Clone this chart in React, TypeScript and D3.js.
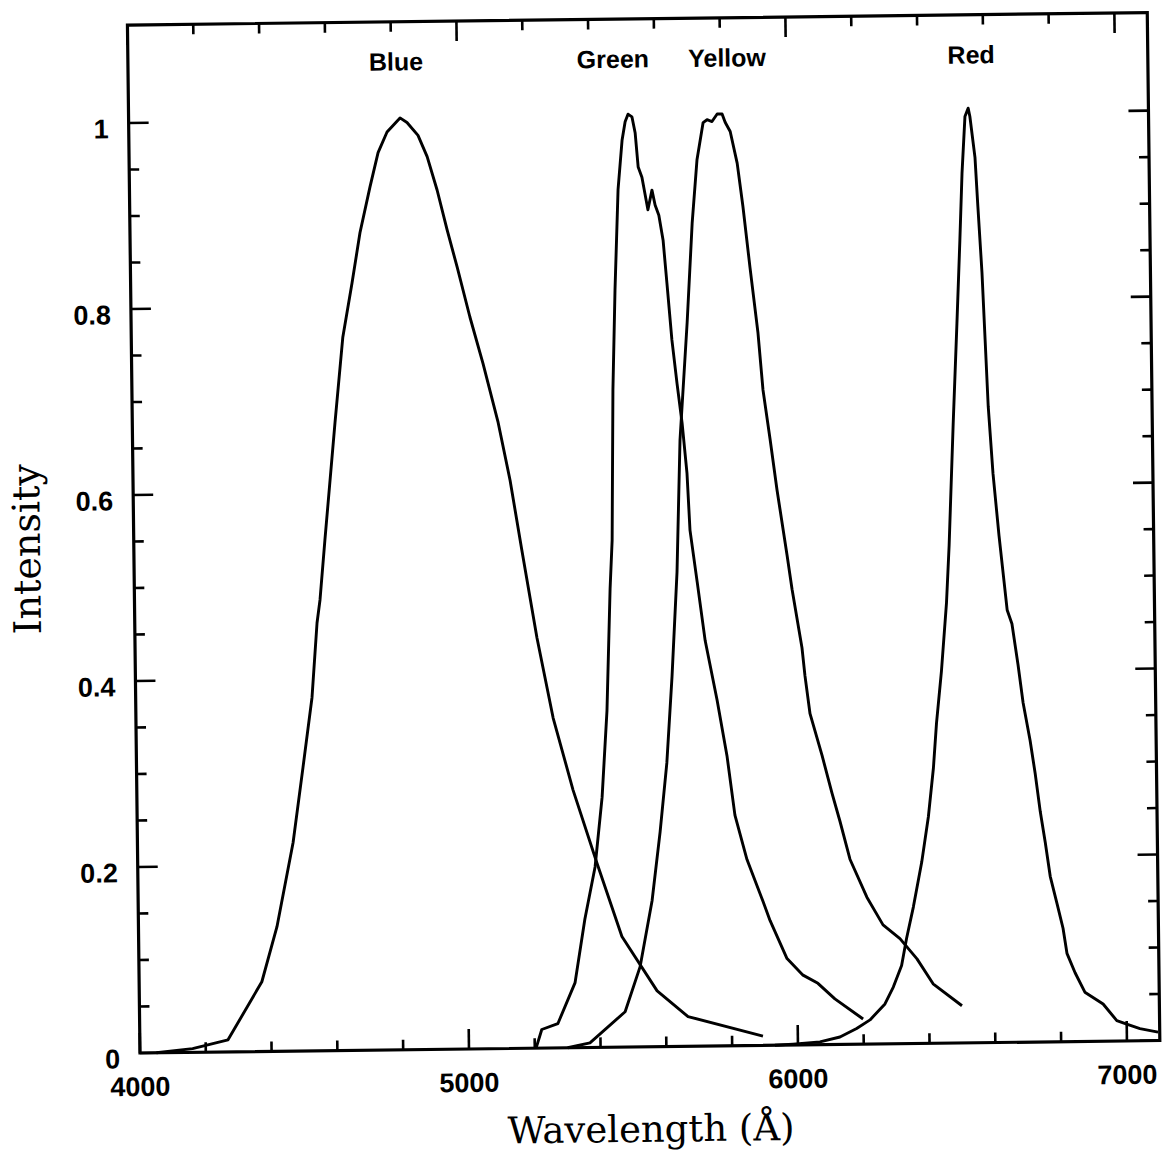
import React from 'react';
import * as d3 from 'd3';

// Filter transmission curves
const blueWavelength = [4050, 4160, 4268, 4373, 4421, 4473, 4506, 4536, 4554, 4564, 4581, 4616, 4643, 4673, 4699, 4731, 4757, 4785, 4825, 4846, 4879, 4906, 4935, 4964, 4993, 5030, 5068, 5112, 5146, 5179, 5222, 5268, 5326, 5396, 5469, 5574, 5667, 5894];
const blueIntensity = [0, 0.004, 0.013, 0.075, 0.134, 0.224, 0.305, 0.38, 0.46, 0.485, 0.549, 0.675, 0.767, 0.825, 0.879, 0.928, 0.965, 0.987, 1.002, 0.997, 0.983, 0.96, 0.924, 0.881, 0.841, 0.787, 0.737, 0.673, 0.611, 0.536, 0.441, 0.355, 0.277, 0.198, 0.119, 0.06, 0.032, 0.01];

const greenWavelength = [5204, 5222, 5271, 5325, 5357, 5390, 5414, 5432, 5446, 5454, 5462, 5472, 5485, 5499, 5509, 5518, 5530, 5539, 5547, 5558, 5575, 5588, 5597, 5608, 5620, 5630, 5643, 5657, 5671, 5684, 5691, 5711, 5733, 5767, 5795, 5817, 5852, 5899, 5920, 5970, 6018, 6063, 6114, 6199];
const greenIntensity = [0, 0.02, 0.026, 0.07, 0.138, 0.194, 0.269, 0.362, 0.493, 0.545, 0.707, 0.814, 0.922, 0.975, 0.995, 1.003, 1.0, 0.983, 0.946, 0.935, 0.9, 0.921, 0.905, 0.894, 0.867, 0.821, 0.76, 0.713, 0.67, 0.616, 0.555, 0.499, 0.436, 0.372, 0.312, 0.248, 0.2, 0.155, 0.134, 0.093, 0.075, 0.066, 0.049, 0.027];

const yellowWavelength = [5300, 5368, 5476, 5523, 5562, 5589, 5612, 5631, 5650, 5664, 5690, 5709, 5726, 5746, 5758, 5773, 5789, 5804, 5813, 5828, 5848, 5864, 5883, 5905, 5918, 5938, 5957, 5985, 5999, 6027, 6035, 6049, 6084, 6113, 6136, 6165, 6215, 6263, 6314, 6365, 6413, 6500];
const yellowIntensity = [0, 0.005, 0.038, 0.086, 0.157, 0.231, 0.305, 0.398, 0.51, 0.652, 0.778, 0.885, 0.953, 0.993, 0.996, 0.994, 1.002, 1.002, 0.993, 0.983, 0.949, 0.902, 0.837, 0.766, 0.705, 0.651, 0.597, 0.527, 0.49, 0.427, 0.397, 0.356, 0.311, 0.27, 0.24, 0.199, 0.158, 0.128, 0.113, 0.091, 0.064, 0.04];

const redWavelength = [5930, 5985, 6067, 6128, 6179, 6220, 6266, 6292, 6318, 6334, 6356, 6383, 6405, 6422, 6433, 6450, 6468, 6478, 6495, 6510, 6522, 6531, 6542, 6552, 6557, 6571, 6578, 6588, 6595, 6602, 6614, 6630, 6652, 6666, 6683, 6697, 6717, 6731, 6745, 6759, 6773, 6793, 6810, 6821, 6845, 6874, 6929, 6970, 7000, 7040, 7095];
const redIntensity = [0, 0.001, 0.003, 0.008, 0.017, 0.026, 0.043, 0.061, 0.084, 0.113, 0.147, 0.195, 0.244, 0.296, 0.344, 0.4, 0.474, 0.535, 0.667, 0.774, 0.863, 0.935, 0.996, 1.005, 0.996, 0.952, 0.899, 0.828, 0.756, 0.684, 0.612, 0.545, 0.465, 0.45, 0.406, 0.365, 0.324, 0.289, 0.248, 0.215, 0.178, 0.148, 0.122, 0.095, 0.074, 0.053, 0.04, 0.022, 0.018, 0.013, 0.009];

const bandNames = ['Blue', 'Green', 'Yellow', 'Red'];
const bandLabelWavelength = [4815, 5474, 5821, 6563];
const bandLabelHeight = 1.053;

const xTickLabels = ['4000', '5000', '6000', '7000'];
const yTickLabels = ['0', '0.2', '0.4', '0.6', '0.8', '1'];

const series = [
  [blueWavelength, blueIntensity],
  [greenWavelength, greenIntensity],
  [yellowWavelength, yellowIntensity],
  [redWavelength, redIntensity],
];

const sansBold = '"Liberation Sans", Arial, Helvetica, sans-serif';
const serif = '"DejaVu Serif", serif';

export default function App() {
  const x = d3.scaleLinear().domain([4000, 7000]).range([140, 1127]);
  const y = d3.scaleLinear().domain([0, 1]).range([1053, 123]);
  const xMax = 7100;
  const yMax = 1.1054;

  const left = x(4000);
  const right = x(xMax);
  const bottom = y(0);
  const top = y(yMax);

  const line = d3
    .line<[number, number]>()
    .x((d) => x(d[0]))
    .y((d) => y(d[1]));

  const xMinor = d3.range(4000, xMax, 200);
  const xMajor = xTickLabels.map(Number);
  const yMinor = d3.range(0, 21).map((i) => i * 0.05);
  const yMajor = yTickLabels.map(Number);

  const major = 20;
  const minor = 10;

  return (
    <svg
      width={1163}
      height={1156}
      style={{ position: 'absolute', left: 0, top: 0, background: '#fff' }}
    >
      <rect width={1163} height={1156} fill="#fff" />
      {/* the scanned page sits a little tilted */}
      <g transform={`rotate(-0.7 ${left} ${bottom})`}>
        <rect
          x={left}
          y={top}
          width={right - left}
          height={bottom - top}
          fill="none"
          stroke="#000"
          strokeWidth={3.2}
        />
        {/* ticks on all four sides, pointing in */}
        <g stroke="#000" strokeWidth={2.6}>
          {xMinor.map((v) => {
            const len = xMajor.includes(v) ? major : minor;
            return (
              <g key={'xt' + v}>
                <line x1={x(v)} x2={x(v)} y1={bottom} y2={bottom - len} />
                <line x1={x(v)} x2={x(v)} y1={top} y2={top + len} />
              </g>
            );
          })}
          {yMinor.map((v, i) => {
            const len = i % 4 === 0 ? major : minor;
            return (
              <g key={'yt' + i}>
                <line x1={left} x2={left + len} y1={y(v)} y2={y(v)} />
                <line x1={right} x2={right - len} y1={y(v)} y2={y(v)} />
              </g>
            );
          })}
        </g>
        <g fontFamily={sansBold} fontWeight="bold" fontSize={27} fill="#000">
          {xTickLabels.map((t, i) => (
            <text key={t} x={x(xMajor[i])} y={bottom + 43} textAnchor="middle">
              {t}
            </text>
          ))}
          {yTickLabels.map((t, i) => (
            <text key={t} x={left - 20} y={y(yMajor[i]) + 15} textAnchor="end">
              {t}
            </text>
          ))}
        </g>
        <g fontFamily={sansBold} fontWeight="bold" fontSize={25} fill="#000">
          {bandNames.map((n, i) => (
            <text
              key={n}
              x={x(bandLabelWavelength[i])}
              y={y(bandLabelHeight)}
              textAnchor="middle"
            >
              {n}
            </text>
          ))}
        </g>
        <g fill="none" stroke="#000" strokeWidth={2.9} strokeLinejoin="round">
          {series.map(([wl, inten], i) => (
            <path key={i} d={line(d3.zip(wl, inten) as [number, number][]) || ''} />
          ))}
        </g>
        <text
          x={650}
          y={1148}
          textAnchor="middle"
          fontFamily={serif}
          fontSize={37}
          fill="#000"
        >
          Wavelength (Å)
        </text>
        <text
          transform="translate(46 548) rotate(-90)"
          textAnchor="middle"
          fontFamily={serif}
          fontSize={38}
          fill="#000"
        >
          Intensity
        </text>
      </g>
    </svg>
  );
}
